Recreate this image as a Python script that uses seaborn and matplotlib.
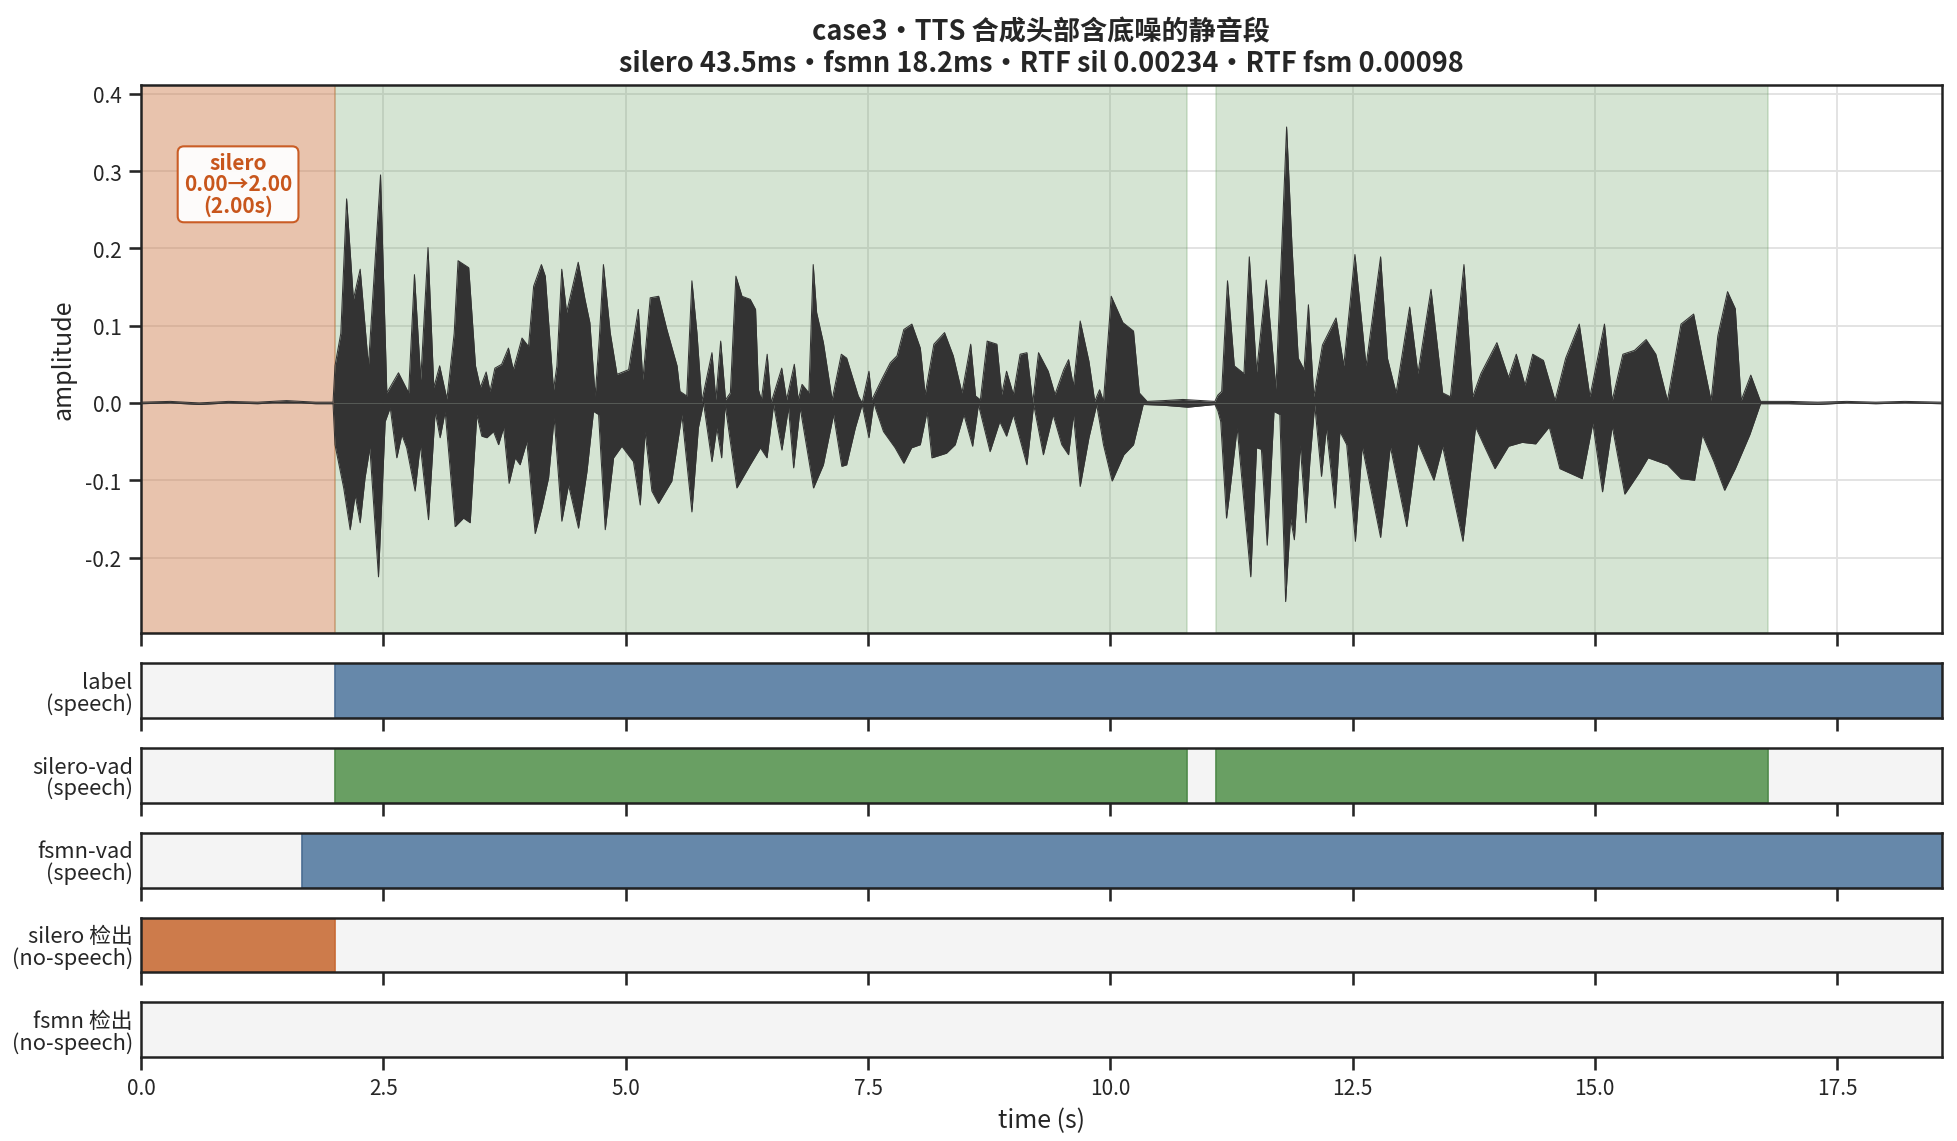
import numpy as np
import pandas as pd
import matplotlib
matplotlib.use("Agg")
import matplotlib.pyplot as plt
import seaborn as sns

# clip length (s)
DURATION = 18.58

# waveform envelope: (time s, amplitude)
upper_env = [
    (0.00, 0.001), (0.30, 0.002), (0.60, 0.000), (0.90, 0.002), (1.20, 0.001), (1.50, 0.003),
    (1.80, 0.001), (1.98, 0.001),
    (2.00, 0.048), (2.06, 0.090), (2.12, 0.264), (2.19, 0.134), (2.26, 0.173), (2.345, 0.048),
    (2.47, 0.295), (2.535, 0.013), (2.655, 0.039), (2.76, 0.013), (2.82, 0.166), (2.885, 0.030),
    (2.96, 0.201), (3.02, 0.020), (3.08, 0.048), (3.155, 0.005), (3.23, 0.090), (3.27, 0.184),
    (3.38, 0.175), (3.45, 0.048), (3.50, 0.020), (3.56, 0.040), (3.60, 0.015), (3.65, 0.045),
    (3.72, 0.050), (3.79, 0.071), (3.84, 0.043), (3.93, 0.084), (3.997, 0.073), (4.05, 0.151),
    (4.13, 0.179), (4.17, 0.164), (4.255, 0.017), (4.29, 0.048), (4.34, 0.173), (4.39, 0.117),
    (4.51, 0.182), (4.58, 0.134), (4.63, 0.104), (4.685, 0.009), (4.727, 0.082), (4.77, 0.179),
    (4.84, 0.091), (4.91, 0.037), (5.03, 0.043), (5.13, 0.121), (5.177, 0.030), (5.253, 0.136),
    (5.34, 0.138), (5.425, 0.095), (5.53, 0.048), (5.56, 0.015), (5.63, 0.009), (5.683, 0.158),
    (5.735, 0.091), (5.785, 0.002), (5.89, 0.065), (5.93, 0.004), (5.98, 0.080), (6.03, 0.004),
    (6.08, 0.013), (6.137, 0.164), (6.20, 0.138), (6.285, 0.134), (6.34, 0.121), (6.37, 0.017),
    (6.40, 0.004), (6.46, 0.063), (6.50, 0.000), (6.61, 0.045), (6.66, 0.004), (6.74, 0.050),
    (6.78, 0.004), (6.82, 0.024), (6.89, 0.013), (6.935, 0.179), (6.97, 0.117), (7.04, 0.078),
    (7.13, 0.004), (7.225, 0.063), (7.28, 0.058), (7.40, 0.009), (7.44, 0.000), (7.51, 0.041),
    (7.54, 0.004), (7.64, 0.030), (7.73, 0.052), (7.80, 0.061), (7.87, 0.095), (7.953, 0.102),
    (8.04, 0.071), (8.09, 0.011), (8.18, 0.076), (8.29, 0.091), (8.38, 0.061), (8.47, 0.013),
    (8.56, 0.076), (8.61, 0.009), (8.66, 0.004), (8.73, 0.080), (8.83, 0.076), (8.88, 0.011),
    (8.93, 0.041), (9.00, 0.011), (9.07, 0.063), (9.14, 0.065), (9.20, 0.000), (9.26, 0.065),
    (9.36, 0.041), (9.43, 0.011), (9.52, 0.043), (9.57, 0.056), (9.62, 0.022), (9.69, 0.106),
    (9.78, 0.054), (9.84, 0.002), (9.89, 0.017), (9.93, 0.002), (10.01, 0.138), (10.13, 0.104),
    (10.24, 0.093), (10.30, 0.013), (10.38, 0.002), (10.55, 0.003), (10.75, 0.0045), (10.95, 0.003),
    (11.08, 0.002), (11.11, 0.010), (11.15, 0.015), (11.21, 0.158), (11.28, 0.048), (11.38, 0.038),
    (11.435, 0.189), (11.51, 0.040), (11.61, 0.159), (11.71, 0.018), (11.82, 0.357), (11.876, 0.201),
    (11.94, 0.058), (12.00, 0.043), (12.045, 0.127), (12.10, 0.008), (12.19, 0.075), (12.33, 0.110),
    (12.41, 0.048), (12.525, 0.192), (12.64, 0.048), (12.79, 0.189), (12.86, 0.058), (12.95, 0.013),
    (13.09, 0.124), (13.175, 0.038), (13.31, 0.147), (13.43, 0.013), (13.51, 0.008), (13.65, 0.179),
    (13.74, 0.008), (13.825, 0.038), (13.99, 0.078), (14.11, 0.033), (14.19, 0.063), (14.28, 0.023),
    (14.36, 0.063), (14.47, 0.055), (14.59, 0.003), (14.70, 0.058), (14.84, 0.102), (14.95, 0.008),
    (15.10, 0.102), (15.18, 0.003), (15.29, 0.063), (15.41, 0.068), (15.53, 0.082), (15.63, 0.063),
    (15.75, 0.003), (15.89, 0.102), (16.02, 0.115), (16.11, 0.058), (16.20, 0.003), (16.27, 0.087),
    (16.37, 0.144), (16.45, 0.122), (16.51, 0.003), (16.61, 0.036), (16.71, 0.002),
    (17.00, 0.002), (17.30, 0.001), (17.60, 0.002), (17.90, 0.001), (18.20, 0.002), (18.58, 0.001),
]
lower_env = [
    (0.00, -0.001), (0.30, 0.000), (0.60, -0.002), (0.90, 0.000), (1.20, -0.001), (1.50, 0.001),
    (1.80, -0.001), (1.98, -0.001),
    (2.00, -0.054), (2.09, -0.110), (2.157, -0.164), (2.208, -0.119), (2.26, -0.155), (2.31, -0.097),
    (2.36, -0.058), (2.449, -0.225), (2.518, -0.024), (2.57, -0.006), (2.638, -0.071), (2.69, -0.041),
    (2.74, -0.058), (2.827, -0.114), (2.88, -0.054), (2.965, -0.151), (3.034, -0.011), (3.085, -0.045),
    (3.137, -0.011), (3.24, -0.160), (3.326, -0.149), (3.395, -0.155), (3.464, -0.015), (3.515, -0.043),
    (3.567, -0.045), (3.636, -0.037), (3.688, -0.054), (3.74, -0.032), (3.797, -0.104), (3.86, -0.071),
    (3.91, -0.080), (3.98, -0.050), (4.066, -0.169), (4.135, -0.136), (4.204, -0.097), (4.262, -0.019),
    (4.341, -0.153), (4.41, -0.106), (4.513, -0.162), (4.60, -0.089), (4.668, -0.011), (4.72, -0.015),
    (4.789, -0.164), (4.875, -0.071), (4.96, -0.056), (5.08, -0.076), (5.15, -0.132), (5.20, -0.037),
    (5.27, -0.114), (5.338, -0.130), (5.476, -0.101), (5.58, -0.015), (5.683, -0.141), (5.75, -0.032),
    (5.803, 0.000), (5.89, -0.076), (5.94, -0.032), (5.99, -0.071), (6.026, -0.002), (6.147, -0.110),
    (6.285, -0.080), (6.39, -0.058), (6.458, -0.071), (6.526, -0.002), (6.612, -0.061), (6.68, -0.006),
    (6.733, -0.084), (6.80, -0.006), (6.938, -0.110), (7.04, -0.080), (7.145, -0.015), (7.23, -0.082),
    (7.28, -0.080), (7.37, -0.032), (7.44, -0.002), (7.51, -0.045), (7.56, 0.000), (7.66, -0.037),
    (7.78, -0.058), (7.87, -0.078), (7.95, -0.058), (8.04, -0.054), (8.11, -0.011), (8.16, -0.071),
    (8.31, -0.065), (8.40, -0.054), (8.49, -0.015), (8.58, -0.056), (8.64, -0.002), (8.76, -0.063),
    (8.86, -0.024), (8.93, -0.043), (9.00, -0.015), (9.14, -0.080), (9.21, -0.002), (9.31, -0.067),
    (9.41, -0.015), (9.50, -0.054), (9.57, -0.067), (9.62, -0.015), (9.69, -0.108), (9.78, -0.045),
    (9.86, -0.002), (9.93, -0.054), (10.02, -0.101), (10.14, -0.067), (10.24, -0.054), (10.34, -0.002),
    (10.55, -0.003), (10.80, -0.0055), (11.00, -0.003), (11.08, -0.002), (11.11, -0.010), (11.14, -0.024),
    (11.20, -0.149), (11.23, -0.119), (11.31, -0.032), (11.45, -0.225), (11.51, -0.058), (11.56, -0.060),
    (11.62, -0.184), (11.69, -0.011), (11.75, -0.015), (11.81, -0.257), (11.86, -0.149), (11.90, -0.177),
    (11.96, -0.054), (12.02, -0.155), (12.06, -0.076), (12.11, -0.002), (12.18, -0.095), (12.23, -0.032),
    (12.32, -0.136), (12.37, -0.037), (12.44, -0.054), (12.53, -0.179), (12.60, -0.056), (12.79, -0.174),
    (12.89, -0.056), (13.06, -0.160), (13.175, -0.051), (13.34, -0.100), (13.43, -0.056), (13.64, -0.179),
    (13.77, -0.031), (13.88, -0.061), (13.97, -0.085), (14.11, -0.056), (14.25, -0.051), (14.39, -0.053),
    (14.53, -0.031), (14.64, -0.085), (14.87, -0.098), (14.98, -0.026), (15.08, -0.115), (15.18, -0.030),
    (15.31, -0.118), (15.46, -0.090), (15.55, -0.071), (15.75, -0.080), (15.89, -0.098), (16.03, -0.100),
    (16.11, -0.041), (16.23, -0.076), (16.34, -0.113), (16.45, -0.085), (16.60, -0.041), (16.71, -0.001),
    (17.00, -0.001), (17.30, -0.002), (17.60, 0.000), (17.90, -0.001), (18.20, 0.000), (18.58, -0.001),
]

# speech / no-speech segments (start s, end s)
label_speech = [(2.00, DURATION)]
silero_speech = [(2.00, 10.79), (11.09, 16.79)]
fsmn_speech = [(1.66, DURATION)]
silero_nospeech = [(0.00, 2.00)]
fsmn_nospeech = []

track_names = ["label\n(speech)", "silero-vad\n(speech)", "fsmn-vad\n(speech)",
               "silero 检出\n(no-speech)", "fsmn 检出\n(no-speech)"]
track_segs = [label_speech, silero_speech, fsmn_speech, silero_nospeech, fsmn_nospeech]

title_text = ("case3・TTS 合成头部含底噪的静音段\n"
              "silero 43.5ms・fsmn 18.2ms・RTF sil 0.00234・RTF fsm 0.00098")

BLUE, BLUE_EDGE = "#6688aa", "#4a6d93"
GREEN, GREEN_EDGE = "#699f63", "#4f8a4a"
ORANGE, ORANGE_EDGE = "#cd7b4b", "#c86a35"
ORANGE_TXT = "#c8561c"
WAVE = "#333333"
track_colors = [(BLUE, BLUE_EDGE), (GREEN, GREEN_EDGE), (BLUE, BLUE_EDGE),
                (ORANGE, ORANGE_EDGE), (ORANGE, ORANGE_EDGE)]

sns.set_theme(style="ticks")
plt.rcParams["font.family"] = ["Noto Sans CJK SC", "DejaVu Sans"]
plt.rcParams["axes.unicode_minus"] = False
plt.rcParams["axes.edgecolor"] = "#222222"
plt.rcParams["axes.linewidth"] = 1.2

fig, axes = plt.subplots(6, 1, figsize=(13.053, 7.613), dpi=150, sharex=True,
                         gridspec_kw={"height_ratios": [10, 1, 1, 1, 1, 1]})
fig.subplots_adjust(left=0.0721, right=0.9917, top=0.9245, bottom=0.0733, hspace=0.219)

# ---- waveform panel
ax = axes[0]
ax.grid(True, color="#e2e2e2", linewidth=0.9)
ax.set_axisbelow(True)
for s, e in silero_speech:
    ax.axvspan(s, e, color=GREEN, alpha=0.28, lw=0.8)
for s, e in silero_nospeech:
    ax.axvspan(s, e, color=ORANGE, alpha=0.45, lw=0.8)

up = pd.DataFrame(upper_env, columns=["t", "amp"])
lo = pd.DataFrame(lower_env, columns=["t", "amp"])
ax.fill_between(up["t"], 0, up["amp"], color=WAVE, lw=0, zorder=3)
ax.fill_between(lo["t"], lo["amp"], 0, color=WAVE, lw=0, zorder=3)
sns.lineplot(data=up, x="t", y="amp", ax=ax, color=WAVE, lw=0.5, estimator=None, sort=False, zorder=3)
sns.lineplot(data=lo, x="t", y="amp", ax=ax, color=WAVE, lw=0.5, estimator=None, sort=False, zorder=3)

s0, e0 = silero_nospeech[0]
ax.text((s0 + e0) / 2, 0.283, f"silero\n{s0:.2f}→{e0:.2f}\n({e0 - s0:.2f}s)",
        ha="center", va="center", fontsize=10, fontweight="bold", color=ORANGE_TXT,
        linespacing=1.0, zorder=5,
        bbox=dict(boxstyle="round,pad=0.3", fc="white", ec=ORANGE_TXT, lw=1.0, alpha=0.95))

ax.set_xlim(0, DURATION)
ax.set_ylim(-0.298, 0.411)
ax.set_xlabel("")
ax.set_ylabel("amplitude", fontsize=12)
ax.set_title(title_text, fontsize=13, fontweight="bold", pad=7, linespacing=1.15)
ax.tick_params(labelsize=10)

# ---- segment tracks
for a, name, segs, (col, edge) in zip(axes[1:], track_names, track_segs, track_colors):
    a.set_facecolor("#f4f4f4")
    if segs:
        a.barh([0.5] * len(segs), [e - s for s, e in segs], left=[s for s, e in segs],
               height=1.0, color=col, edgecolor=edge, lw=0.8)
    a.set_ylim(0, 1)
    a.set_yticks([0.5])
    a.set_yticklabels([name], fontsize=10.5)
    for lbl in a.get_yticklabels():
        lbl.set_linespacing(0.95)
    a.tick_params(axis="y", length=0, pad=4)
    a.tick_params(axis="x", labelsize=10)

axes[-1].set_xlim(0, DURATION)
axes[-1].set_xlabel("time (s)", fontsize=12)

fig.savefig("out.png", dpi=150)
